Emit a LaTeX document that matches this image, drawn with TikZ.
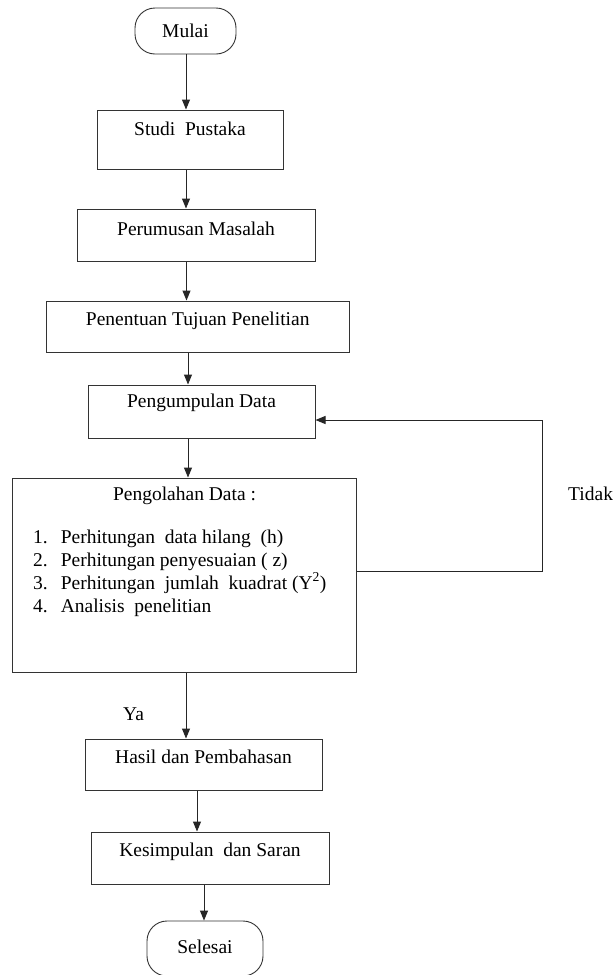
\documentclass[tikz,border=0pt]{standalone}
\usepackage{fontspec}
\setmainfont{Liberation Serif}
\usetikzlibrary{arrows.meta}
\begin{document}
\begin{tikzpicture}[x=1pt,y=-1pt,
  every node/.style={font=\fontsize{19.5}{23}\selectfont, inner sep=0pt},
  box/.style={draw=black!80, line width=1pt, rectangle},
  term/.style={draw=black!80, line width=0.9pt, rectangle, rounded corners=20pt},
  arr/.style={draw=black!85, line width=1pt, -{Triangle[length=10pt,width=8pt]}},
  ln/.style={draw=black!80, line width=1pt},
  txt/.style={anchor=base}]
\useasboundingbox[fill=white] (0,0) rectangle (613,975);

% terminals
\node[term, minimum width=101pt, minimum height=46pt] (mulai) at (185.5,31) {Mulai};
\node[term, minimum width=116pt, minimum height=55pt] (selesai) at (205,948.5) {};
\node (tselesai) at (205,947) {Selesai};

% process boxes
\node[box, minimum width=186pt, minimum height=59pt] (studi) at (190,139.5) {};
\node[txt] (tstudi) at (190,135) {Studi\ \ Pustaka};

\node[box, minimum width=238pt, minimum height=52pt] (perum) at (196,235) {};
\node[txt] (tperum) at (196,235) {Perumusan Masalah};

\node[box, minimum width=302.5pt, minimum height=51pt] (tujuan) at (197.75,326.5) {};
\node[txt] (ttujuan) at (197.75,325) {Penentuan Tujuan Penelitian};

\node[box, minimum width=227pt, minimum height=53pt] (kumpul) at (201.5,411.5) {};
\node[txt] (tkumpul) at (201.5,407) {Pengumpulan Data};

\node[box, minimum width=344pt, minimum height=194.5pt] (olah) at (184,575.25) {};
\node[txt] (tolah) at (184.5,500) {Pengolahan Data :};
\node[anchor=base west] (i1) at (33,543) {\makebox[27.6pt][l]{1.}Perhitungan\ \ data hilang\ \ (h)};
\node[anchor=base west] (i2) at (33,566) {\makebox[27.6pt][l]{2.}Perhitungan penyesuaian ( z)};
\node[anchor=base west] (i3) at (33,589) {\makebox[27.6pt][l]{3.}Perhitungan\ \ jumlah\ \ kuadrat (Y\textsuperscript{2})};
\node[anchor=base west] (i4) at (33,612) {\makebox[27.6pt][l]{4.}Analisis\ \ penelitian};

\node[box, minimum width=237pt, minimum height=51pt] (hasil) at (203.5,764.5) {};
\node[txt] (thasil) at (203.5,763) {Hasil dan Pembahasan};

\node[box, minimum width=238pt, minimum height=52pt] (simpul) at (210,858) {};
\node[txt] (tsimpul) at (210,856) {Kesimpulan\ \ dan Saran};

% labels
\node[anchor=base west] (tidak) at (568,500) {Tidak};
\node[anchor=base west] (ya) at (123,720) {Ya};

% connectors
\draw[arr] ([xshift=0.5pt]mulai.south) -- ([xshift=0.5pt]mulai.south |- studi.north);
\draw[arr] ([xshift=-4pt]studi.south) -- ([xshift=-4pt]studi.south |- perum.north);
\draw[arr] ([xshift=-9.5pt]perum.south) -- ([xshift=-9.5pt]perum.south |- tujuan.north);
\draw[arr] ([xshift=-9.75pt]tujuan.south) -- ([xshift=-9.75pt]tujuan.south |- kumpul.north);
\draw[arr] ([xshift=-13.5pt]kumpul.south) -- ([xshift=-13.5pt]kumpul.south |- olah.north);
\draw[arr] ([xshift=2pt]olah.south) -- ([xshift=2pt]olah.south |- hasil.north);
\draw[arr] ([xshift=-6.5pt]hasil.south) -- ([xshift=-6.5pt]hasil.south |- simpul.north);
\draw[arr] ([xshift=-6pt]simpul.south) -- ([xshift=-6pt]simpul.south |- selesai.north);

\coordinate (fb) at (542.7,571.5);
\draw[arr] ([yshift=3.75pt]olah.east) -- (fb) |- ([yshift=-8.5pt]kumpul.east);
\end{tikzpicture}
\end{document}
